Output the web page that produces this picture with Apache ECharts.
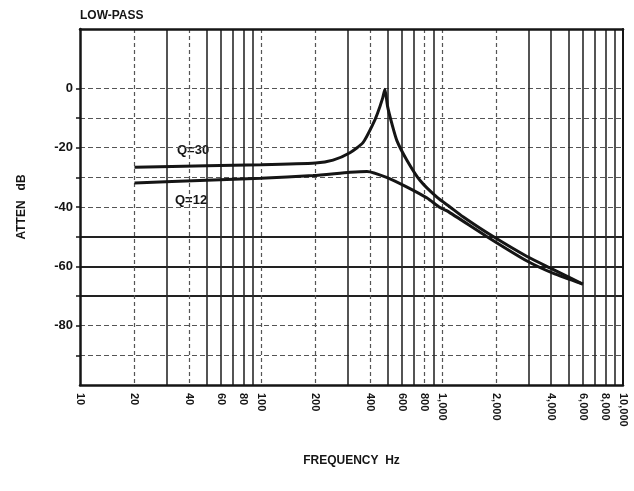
<!DOCTYPE html>
<html>
<head>
<meta charset="utf-8">
<title>Low-pass</title>
<script src="https://cdn.jsdelivr.net/npm/echarts@6/dist/echarts.min.js"></script>
<style>
  html, body { margin: 0; padding: 0; background: #fff; }
  #chart { width: 634px; height: 491px; }
</style>
</head>
<body>
<div id="chart"></div>
<script>
// frequency (Hz) / attenuation (dB)
const q30Freq  = [20, 50, 100, 200, 250, 310, 366, 416, 440, 470, 484, 500, 529, 564, 641, 755, 937, 1107, 1306, 1841, 2950, 4100, 6000];
const q30Atten = [-26.6, -26.1, -25.8, -25.2, -24.2, -21.7, -18.3, -12, -8.5, -3.3, -0.3, -6, -12, -17.7, -24.3, -31, -36.7, -40, -43.3, -49.3, -56.7, -61, -66];

const q12Freq  = [20, 50, 100, 194, 310, 385, 494, 641, 827, 975, 1067, 1774, 2950, 4100, 6000];
const q12Atten = [-31.9, -31, -30.3, -29.4, -28.3, -28, -30, -33.3, -37, -40.2, -41.3, -50, -58.2, -62.3, -66];

// axis labels and grid lines
const freqLabels   = [10, 20, 40, 60, 80, 100, 200, 400, 600, 800, 1000, 2000, 4000, 6000, 8000, 10000];
const solidFreqs   = [30, 50, 60, 70, 80, 90, 300, 500, 600, 700, 900, 3000, 4000, 5000, 6000, 7000, 8000, 9000];
const dashedFreqs  = [20, 40, 100, 200, 400, 800, 1000, 2000];
const attenLabels  = [-80, -60, -40, -20, 0];
const attenTicks   = [-90, -80, -70, -60, -50, -40, -30, -20, -10, 0];
const attenSolid   = [-70, -60, -50];

const lg = v => Math.log10(v);
const font = 'Liberation Sans';
const ink = '#151515';

const chart = echarts.init(document.getElementById('chart'));

const option = {
    backgroundColor: '#fff',
    animation: false,
    grid: { left: 80, right: 11, top: 29, bottom: 106 },
    graphic: [
        { type: 'text', left: 80, top: 10, style: { text: 'LOW-PASS', fontFamily: font, fontWeight: 'bold', fontSize: 12, fill: ink } },
        { type: 'text', left: 177, top: 144, style: { text: 'Q=30', fontFamily: font, fontWeight: 'bold', fontSize: 13, fill: ink } },
        { type: 'text', left: 175, top: 194, style: { text: 'Q=12', fontFamily: font, fontWeight: 'bold', fontSize: 13, fill: ink } }
    ],
    xAxis: [
        {
            type: 'value',
            min: 1,
            max: 4,
            position: 'bottom',
            name: 'FREQUENCY  Hz',
            nameLocation: 'middle',
            nameGap: 70,
            nameTextStyle: { fontFamily: font, fontWeight: 'bold', fontSize: 12, color: ink },
            axisLine: { show: true, onZero: false, lineStyle: { color: ink, width: 2.5 } },
            axisTick: { show: false, customValues: solidFreqs.map(lg) },
            axisLabel: {
                customValues: freqLabels.map(lg),
                rotate: -90,
                margin: 8,
                fontFamily: font,
                fontWeight: 'bold',
                fontSize: 11,
                color: ink,
                formatter: v => Math.round(Math.pow(10, v)).toLocaleString('en-US')
            },
            splitLine: { show: true, lineStyle: { color: '#2a2a2a', width: 1.6 } }
        },
        {
            type: 'value',
            min: 1,
            max: 4,
            position: 'top',
            axisLine: { show: true, onZero: false, lineStyle: { color: ink, width: 2.5 } },
            axisTick: { show: false, customValues: dashedFreqs.map(lg) },
            axisLabel: { show: false },
            splitLine: { show: true, lineStyle: { color: '#555', width: 1.2, type: [4, 3] } }
        }
    ],
    yAxis: [
        {
            type: 'value',
            min: -100,
            max: 20,
            position: 'left',
            name: 'ATTEN   dB',
            nameLocation: 'middle',
            nameRotate: 90,
            nameGap: 52,
            nameTextStyle: { fontFamily: font, fontWeight: 'bold', fontSize: 12, color: ink },
            axisLine: { show: true, onZero: false, lineStyle: { color: ink, width: 2.5 } },
            axisTick: { show: true, customValues: attenTicks, length: 4, lineStyle: { color: ink, width: 1.5 } },
            axisLabel: {
                customValues: attenLabels,
                margin: 7,
                fontFamily: font,
                fontWeight: 'bold',
                fontSize: 13,
                color: ink
            },
            splitLine: { show: true, lineStyle: { color: '#555', width: 1.2, type: [5, 3] } }
        },
        {
            type: 'value',
            min: -100,
            max: 20,
            position: 'right',
            axisLine: { show: true, onZero: false, lineStyle: { color: ink, width: 2 } },
            axisTick: { show: false, customValues: attenSolid },
            axisLabel: { show: false },
            splitLine: { show: true, lineStyle: { color: '#222', width: 2 } }
        }
    ],
    series: [
        {
            name: 'Q=30',
            type: 'line',
            xAxisIndex: 0,
            yAxisIndex: 0,
            symbol: 'none',
            smooth: 0.2,
            lineStyle: { color: ink, width: 3 },
            data: q30Freq.map((f, i) => [lg(f), q30Atten[i]])
        },
        {
            name: 'Q=12',
            type: 'line',
            xAxisIndex: 0,
            yAxisIndex: 0,
            symbol: 'none',
            smooth: 0.2,
            lineStyle: { color: ink, width: 3 },
            data: q12Freq.map((f, i) => [lg(f), q12Atten[i]])
        }
    ]
};

chart.setOption(option);
</script>
</body>
</html>
